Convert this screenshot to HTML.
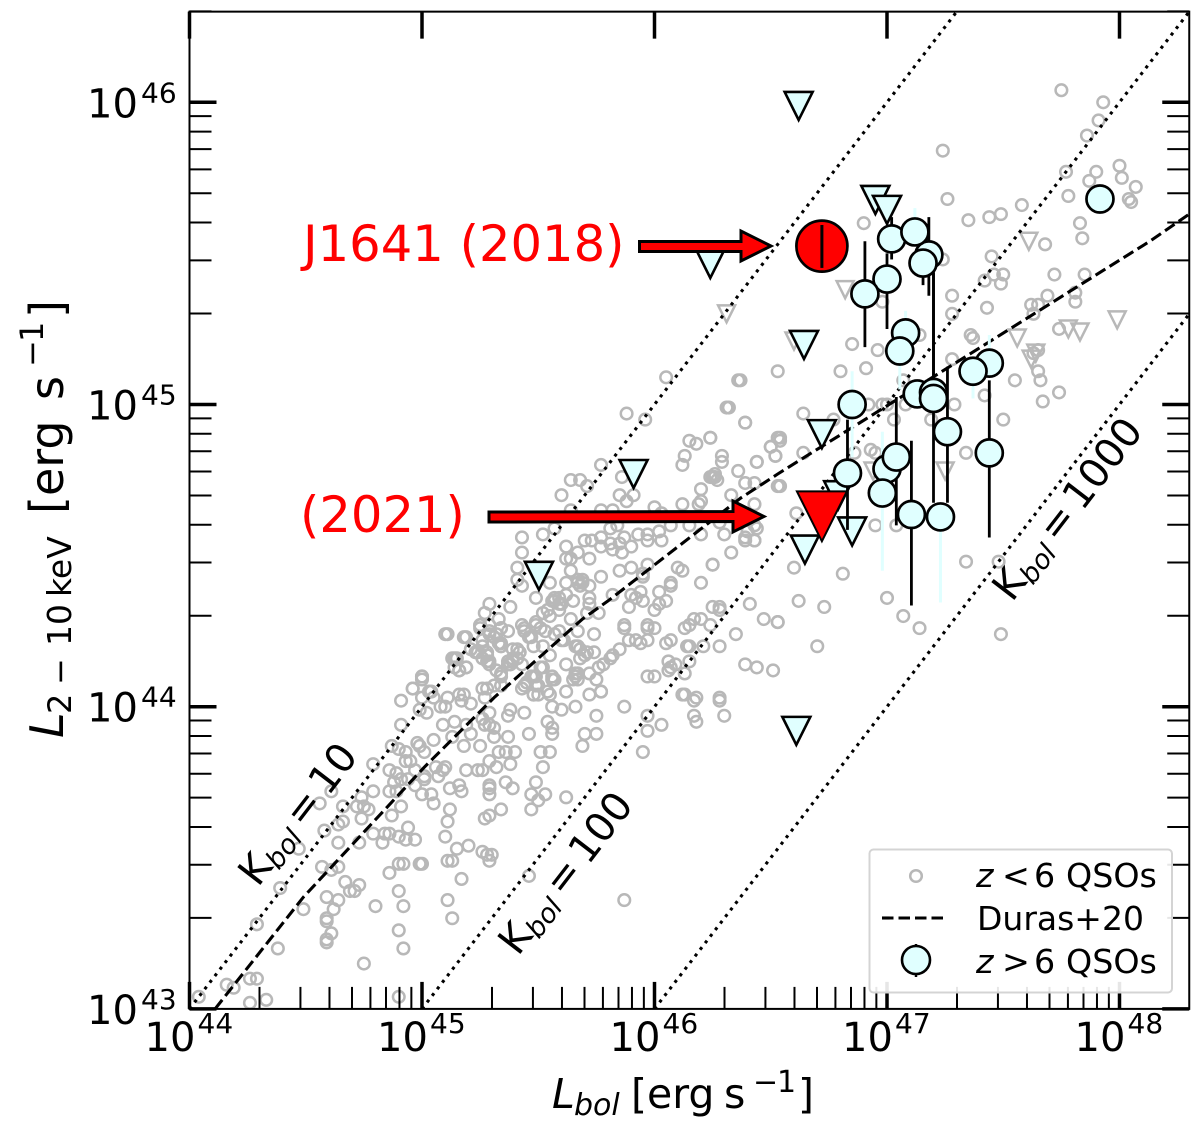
<!DOCTYPE html>
<html lang="en">
<head>
<meta charset="utf-8">
<title>X-ray versus bolometric luminosity</title>
<style>
html,body{margin:0;padding:0;background:#fff}
svg{display:block;font-family:"DejaVu Sans","Liberation Sans",sans-serif}
</style>
</head>
<body>
<svg id="chart" xmlns="http://www.w3.org/2000/svg" width="1200" height="1128" viewBox="0 0 1200 1128">
  <defs><clipPath id="plot-clip"><rect x="189.5" y="11.6" width="999.75" height="997.3"/></clipPath></defs>
  <rect x="0" y="0" width="1200" height="1128" fill="#fff"/>
  <g id="low-z-layer" clip-path="url(#plot-clip)"></g>
  <g id="line-layer" clip-path="url(#plot-clip)"></g>
  <g id="high-z-layer" clip-path="url(#plot-clip)"></g>

  <g font-size="40" fill="#000">
    <text transform="translate(258,888) rotate(-52.4)">K<tspan font-size="27" font-style="italic" dy="6">bol</tspan><tspan dy="-6" dx="7">=</tspan><tspan dx="7">10</tspan></text>
    <text transform="translate(518,957) rotate(-52.4)">K<tspan font-size="27" font-style="italic" dy="6">bol</tspan><tspan dy="-6" dx="7">=</tspan><tspan dx="7">100</tspan></text>
    <text transform="translate(1012,603) rotate(-52.4)">K<tspan font-size="27" font-style="italic" dy="6">bol</tspan><tspan dy="-6" dx="7">=</tspan><tspan dx="7">1000</tspan></text>
  </g>

  <g>
    <text x="303" y="261" font-size="49.6" fill="#f00">J1641 (2018)</text>
    <text x="300" y="532" font-size="49.6" fill="#f00">(2021)</text>
    <polygon points="639.5,241.5 741,241.5 741,231 771,246 741,261 741,251.5 639.5,251.5" fill="#f00" stroke="#000" stroke-width="3" stroke-linejoin="miter"/>
    <polygon points="489,512 733,511.5 733,501 764,516.5 733,532 733,521.5 489,522" fill="#f00" stroke="#000" stroke-width="3" stroke-linejoin="miter"/>
  </g>

  <g id="axis-layer"></g>

  <text transform="translate(63,738) rotate(-90)" font-size="46" fill="#000"><tspan x="0" y="0" font-style="italic">L</tspan><tspan x="24" y="8" font-size="32">2</tspan><tspan x="53" y="8" font-size="32">−</tspan><tspan x="92" y="8" font-size="33">10</tspan><tspan x="141" y="8" font-size="33">keV</tspan><tspan x="224" y="0">[erg</tspan><tspan x="338" y="0">s</tspan><tspan x="371" y="-20" font-size="32">−</tspan><tspan x="396" y="-20" font-size="32">1</tspan><tspan x="420" y="0">]</tspan></text>
  <text x="552" y="1108" font-size="41" fill="#000"><tspan x="552" y="1108" font-style="italic">L</tspan><tspan x="574" y="1115" font-size="30" font-style="italic">bol</tspan><tspan x="631" y="1108">[erg</tspan><tspan x="724" y="1108">s</tspan><tspan x="753" y="1092" font-size="30">−</tspan><tspan x="777" y="1092" font-size="30">1</tspan><tspan x="798" y="1108">]</tspan></text>

  <g>
    <rect x="869.5" y="849.5" width="302.5" height="143" rx="4" ry="4" fill="#fff" fill-opacity="0.9" stroke="#d4d4d4" stroke-width="2"/>
    <circle cx="916" cy="876" r="5.8" fill="none" stroke="#b8b8b8" stroke-width="2.5"/>
    <line x1="882" y1="918" x2="948" y2="918" stroke="#000" stroke-width="3.1" stroke-dasharray="11.5 5"/>
    <line x1="916" y1="944" x2="916" y2="977" stroke="#000" stroke-width="2.5"/>
    <circle cx="916" cy="960" r="14" fill="#e0ffff" stroke="#000" stroke-width="2.6"/>
    <g font-size="33.3" fill="#000">
      <text x="976" y="887" font-style="italic">z</text><text x="1002" y="887">&lt;</text><text x="1034" y="887">6</text><text x="1066" y="887">QSOs</text>
    </g>
    <text x="977" y="930" font-size="33" fill="#000">Duras+20</text>
    <g font-size="33.3" fill="#000">
      <text x="976" y="973" font-style="italic">z</text><text x="1002" y="973">&gt;</text><text x="1034" y="973">6</text><text x="1066" y="973">QSOs</text>
    </g>
  </g>
</svg>
<script>
// ---- chart data (log10 luminosities in erg/s) ----
const xTickExponents = [44, 45, 46, 47, 48];
const yTickExponents = [43, 44, 45, 46];
const minorMultiples = [2, 3, 4, 5, 6, 7, 8, 9];
const kbolValues = [10, 100, 1000];

// Duras+20 relation: [log Lbol, log Lx]
const durasCurve = [[44.11,43.0],[44.49,43.37],[45.01,43.80],[45.31,44.03],[45.69,44.29],[45.80,44.35],[46.37,44.69],[46.53,44.77],[47.3,45.14],[48.13,45.54],[48.3,45.63]];

// z<6 detections: [log Lbol, log Lx]
const lowZDetections = [
[45.10,44.24],[45.18,44.23],[45.25,44.27],[45.29,44.25],[45.34,44.26],[45.37,44.25],[45.43,44.27],[45.49,44.28],[45.46,44.23],[45.51,44.26],
[45.59,44.25],[45.61,44.22],[45.66,44.20],[45.68,44.19],[45.71,44.18],[45.21,44.19],[45.26,44.20],[45.28,44.18],[45.33,44.21],[45.34,44.20],
[45.41,44.19],[45.37,44.15],[45.39,44.16],[45.13,44.16],[45.15,44.16],[45.14,44.13],[45.19,44.13],[45.16,44.12],[45.26,44.16],[45.28,44.15],
[45.32,44.12],[45.34,44.11],[45.43,44.14],[45.47,44.10],[45.51,44.13],[45.56,44.10],[45.62,44.14],[45.66,44.11],[45.65,44.09],[45.00,44.10],
[45.00,44.09],[44.96,44.06],[45.03,44.05],[45.05,44.03],[45.00,44.03],[44.91,44.02],[45.11,44.03],[45.16,44.04],[45.17,44.02],[45.21,44.01],
[45.26,44.06],[45.27,44.03],[45.31,44.07],[45.08,44.0],[45.10,44.0],[45.02,43.98],[44.99,43.99],[44.91,43.94],[45.09,43.94],[45.14,43.95],
[45.19,43.94],[45.21,43.91],[45.13,43.90],[45.26,43.96],[45.29,43.98],[45.27,43.94],[45.29,43.94],[45.31,43.93],[45.38,43.99],[45.37,43.97],
[45.44,43.98],[45.46,43.91],[45.43,44.06],[45.48,44.04],[45.50,44.04],[45.54,44.05],[45.56,44.0],[45.60,43.99],[45.66,44.0],[45.54,43.95],
[45.56,43.93],[45.56,43.91],[45.70,43.91],[45.69,43.87],[45.51,43.85],[45.55,43.85],[45.52,43.80],[45.49,43.75],[45.53,43.71],[45.47,43.71],
[45.50,43.69],[45.47,43.66],[45.62,43.70],[44.87,43.87],[44.90,43.86],[44.93,43.85],[44.98,43.88],[44.99,43.87],[45.01,43.85],[45.05,43.89],
[45.18,43.87],[45.25,43.87],[45.31,43.90],[45.37,43.90],[45.33,43.85],[45.36,43.85],[45.40,43.85],[45.38,43.81],[45.32,43.80],[45.29,43.82],
[45.26,43.79],[45.24,43.79],[45.19,43.79],[45.10,43.80],[45.09,43.79],[45.07,43.77],[45.06,43.80],[45.01,43.77],[44.97,43.79],[44.95,43.82],
[44.93,43.82],[44.89,43.78],[44.86,43.79],[44.88,43.75],[44.91,43.76],[44.94,43.76],[44.97,43.74],[45.01,43.76],[44.86,43.72],[44.89,43.72],
[44.79,43.81],[44.79,43.72],[44.74,43.70],[44.72,43.67],[44.75,43.67],[44.77,43.66],[44.74,43.63],[44.66,43.67],[44.56,43.68],[44.61,43.72],
[44.64,43.61],[44.66,43.62],[44.58,43.59],[44.64,43.55],[44.73,43.55],[44.79,43.58],[44.83,43.55],[44.84,43.58],[44.86,43.58],[44.90,43.57],
[44.93,43.56],[44.94,43.60],[44.97,43.56],[44.87,43.64],[44.91,43.67],[45.0,43.71],[45.04,43.71],[45.05,43.68],[45.12,43.73],[45.16,43.74],
[45.17,43.72],[45.12,43.66],[45.11,43.62],[45.10,43.57],[45.15,43.53],[45.20,43.54],[45.26,43.52],[45.30,43.51],[45.28,43.51],[45.29,43.49],
[45.11,43.49],[45.13,43.49],[44.99,43.48],[45.0,43.48],[44.90,43.48],[44.92,43.48],[44.86,43.45],[44.90,43.39],[44.92,43.34],[44.90,43.26],
[44.92,43.20],[44.80,43.34],[44.75,43.15],[45.11,43.36],[45.13,43.30],[45.17,43.43],[45.46,43.44],[45.29,43.73],[45.29,43.74],[45.29,43.71],
[45.36,43.75],[45.39,43.73],[45.34,43.66],[45.29,43.64],[45.27,43.63],[44.47,43.53],[44.57,43.47],[44.61,43.46],[44.64,43.47],[44.67,43.42],
[44.69,43.39],[44.71,43.39],[44.73,43.41],[44.59,43.37],[44.64,43.36],[44.62,43.33],[44.49,43.33],[44.59,43.30],[44.59,43.29],[44.61,43.25],
[44.59,43.23],[44.59,43.22],[44.39,43.40],[44.29,43.28],[44.38,43.20],[44.26,43.10],[44.29,43.10],[44.16,43.08],[44.19,43.07],[44.04,43.04],
[44.26,43.02],[44.33,43.03],[44.90,43.04],
[46.05,45.09],[46.36,45.08],[45.88,44.97],[45.96,44.95],[46.31,44.99],[46.39,44.94],[46.15,44.88],[46.18,44.87],[46.24,44.89],[46.13,44.83],
[46.12,44.80],[46.29,44.83],[46.29,44.81],[46.36,44.78],[46.44,44.81],[46.50,44.86],[46.53,44.89],[46.52,44.83],[45.77,44.80],[45.86,44.76],
[45.64,44.75],[45.68,44.75],[45.71,44.73],[45.60,44.70],[45.85,44.70],[45.91,44.70],[45.88,44.68],[46.25,44.76],[46.24,44.76],[46.27,44.75],
[46.20,44.72],[46.33,44.70],[46.39,44.74],[46.43,44.74],[46.53,44.73],[46.20,44.68],[46.19,44.67],[46.12,44.67],[46.0,44.66],[46.03,44.64],
[45.77,44.65],[45.82,44.65],[45.64,44.65],[46.07,44.60],[46.15,44.60],[46.28,44.61],[45.57,44.59],[45.84,44.60],[45.81,44.59],[45.43,44.56],
[45.52,44.57],[45.87,44.56],[45.93,44.57],[45.97,44.57],[46.02,44.58],[45.97,44.55],[46.03,44.55],[46.20,44.57],[46.30,44.57],[46.40,44.58],
[46.44,44.59],[46.39,44.55],[46.43,44.55],[45.70,44.55],[45.73,44.55],[45.77,44.56],[45.77,44.53],[45.81,44.54],[45.82,44.52],[45.85,44.54],
[45.90,44.53],[45.86,44.51],[45.62,44.53],[45.43,44.51],[46.33,44.51],[45.67,44.51],[45.64,44.49],[45.62,44.49],[45.72,44.49],[45.97,44.47],
[45.95,44.44],[45.85,44.45],[45.90,44.46],[46.10,44.46],[46.12,44.45],[46.25,44.47],[46.25,44.47],[45.41,44.46],[45.64,44.45],[45.77,44.43],
[45.95,44.43],[45.67,44.42],[45.69,44.42],[45.67,44.41],[45.72,44.40],[45.62,44.41],[45.55,44.41],[45.41,44.42],[45.43,44.40],[46.20,44.41],
[46.07,44.41],[46.07,44.40],[46.02,44.38],[46.05,44.35],[46.02,44.34],[46.0,44.32],[45.82,44.37],[45.90,44.37],[45.92,44.36],[45.94,44.38],
[45.95,44.35],[45.89,44.33],[46.25,44.33],[46.28,44.33],[46.28,44.32],[46.41,44.34],[45.49,44.36],[45.57,44.36],[45.56,44.35],[45.59,44.32],
[45.62,44.37],[45.72,44.36],[45.72,44.34],[45.65,44.35],[45.76,44.31],[45.71,44.31],[45.52,44.31],[45.55,44.30],[45.29,44.34],[45.27,44.31],
[45.38,44.33],[45.33,44.29],[46.47,44.29],[46.53,44.28],[46.17,44.29],[46.20,44.29],[46.24,44.27],[46.13,44.26],[46.15,44.27],[45.87,44.27],
[45.87,44.26],[45.97,44.27],[46.0,44.26],[45.97,44.26],[46.35,44.24],[45.74,44.24],[45.89,44.22],[45.92,44.22],[45.94,44.21],[45.97,44.22],
[46.05,44.21],[46.07,44.22],[46.15,44.20],[46.21,44.20],[46.28,44.20],[45.85,44.19],[45.82,44.17],[45.81,44.16],[45.78,44.14],[45.76,44.13],
[45.74,44.18],[45.68,44.16],[46.39,44.14],[46.44,44.13],[46.51,44.12],[46.06,44.15],[46.09,44.14],[46.07,44.13],[46.13,44.11],[45.97,44.10],
[46.0,44.10],[45.72,44.11],[45.67,44.11],[45.67,44.09],[45.75,44.09],[45.77,44.05],[45.72,44.04],[45.62,44.05],[46.12,44.04],[46.18,44.03],
[46.28,44.03],[45.11,44.24],[45.19,44.23],[45.25,44.26],[45.29,44.24],[45.34,44.26],[45.44,44.26],[45.44,44.25],[45.49,44.27],[45.47,44.23],
[45.53,44.25],[45.57,44.24],[45.34,44.20],[45.24,44.18],[45.28,44.17],[45.39,44.19],[45.42,44.18],[45.48,44.20],[45.52,44.20],[45.55,44.17],
[45.60,44.22],[45.64,44.29],[45.67,44.25],[45.67,44.20],[45.70,44.17],[45.14,44.16],[45.16,44.12],[45.19,44.13],[45.29,44.14],[45.38,44.14],
[45.39,44.15],[45.34,44.10],[45.52,44.13],[45.57,44.09],[45.48,44.10],[45.44,44.07],[45.50,44.07],[45.34,44.07],[45.0,44.10],[44.96,44.06],
[45.04,44.05],[45.18,44.04],[45.28,44.06],[45.48,44.04],[45.55,44.04],
[45.67,44.42],[45.69,44.41],[45.68,44.40],[45.57,44.35],[45.59,44.36],[45.60,44.34],[45.54,44.32],[45.59,44.34],[45.25,44.27],[45.29,44.27],
[45.32,44.24],[45.26,44.22],[45.23,44.18],[45.29,44.15],[45.31,44.23],[45.34,44.21],[45.37,44.14],[45.41,44.16],[45.42,44.18],[45.49,44.10],
[45.49,44.07],[45.45,44.08],[45.56,44.09],[45.67,44.11],[45.66,44.10],
[47.75,46.04],[47.93,46.0],[47.91,45.94],[47.86,45.89],[47.24,45.84],[47.77,45.77],[47.90,45.77],[47.87,45.74],[48.0,45.79],[48.01,45.75],
[48.07,45.72],[47.78,45.69],[48.04,45.68],[48.05,45.67],[47.26,45.68],[47.58,45.66],[47.49,45.63],[47.44,45.62],[47.35,45.61],[47.83,45.60],
[47.84,45.55],[47.68,45.53],[46.90,45.60],[47.45,45.49],[47.24,45.48],[47.50,45.43],[47.42,45.41],[47.46,45.43],[47.49,45.40],[47.72,45.43],
[47.85,45.43],[47.28,45.36],[47.69,45.36],[47.62,45.33],[47.65,45.33],[47.81,45.37],[47.81,45.34],[46.98,45.34],[47.43,45.32],[47.28,45.30],
[47.63,45.30],[47.74,45.25],[47.36,45.23],[47.37,45.22],[47.14,45.23],[46.85,45.20],[46.96,45.18],[47.28,45.15],[47.65,45.18],[47.63,45.17],
[46.53,45.11],[46.37,45.08],[46.80,45.11],[46.91,45.12],[46.32,44.99],[46.39,44.94],[46.64,44.97],[47.07,45.08],[46.92,45.0],[46.98,45.0],
[47.0,45.0],[47.08,45.0],[47.03,44.95],[47.29,45.0],[47.55,45.08],[47.42,45.03],[47.50,44.95],[47.66,45.08],[47.65,45.11],[47.67,45.01],
[47.19,44.95],[46.77,44.95],[46.24,44.89],[46.54,44.89],[46.54,44.88],[46.50,44.86],[46.52,44.83],[46.64,44.84],[46.44,44.81],[46.86,44.84],
[46.93,44.85],[46.95,44.84],[47.34,44.84],[46.26,44.77],[46.26,44.76],[46.54,44.73],[46.43,44.67],[46.95,44.60],[47.04,44.60],[46.61,44.64],
[46.43,44.60],[46.39,44.56],[46.43,44.55],[46.60,44.46],[46.81,44.44],[47.34,44.48],[47.48,44.48],[47.0,44.36],[46.62,44.35],[46.73,44.33],
[47.07,44.30],[46.53,44.28],[47.14,44.26],[47.49,44.24],[47.74,45.04],
[46.70,44.20],[46.14,44.20],[46.06,44.12],[46.15,44.15],[46.13,44.04],[46.17,44.02],[46.28,44.02],[46.30,43.97],[46.17,43.97],[46.18,43.95],
[45.87,44.0],[45.97,43.97],[46.03,43.94],[45.97,43.92],[45.95,43.85],[45.75,43.97],[45.75,43.91],[45.77,44.05],[45.87,43.36]
];

// z<6 upper limits: [log Lbol, log Lx]
const lowZLimits = [[47.61,45.54],[46.82,45.38],[46.31,45.30],[46.60,45.21],[47.56,45.22],[47.78,45.25],[47.83,45.24],[47.99,45.28],[47.62,45.15],[47.64,45.17],[46.94,44.78],[47.25,44.78]];

// z>6 upper limits
const highZLimitLbol = [46.62, 46.95, 47.0, 46.24, 46.643, 46.72, 46.79, 46.85, 46.647, 45.91, 45.503, 46.61];
const highZLimitLx   = [45.988, 45.677, 45.644, 45.465, 45.197, 44.902, 44.70, 44.58, 44.52, 44.77, 44.433, 43.92];

// z>6 detections, with error-bar limits in Lx
const highZLbol   = [47.916, 47.18, 47.155, 47.02, 47.12, 47.0, 46.905, 47.08, 47.055, 47.44, 47.37, 47.13, 47.2, 47.2, 47.26, 46.85, 46.83, 47.44, 47.0, 47.04, 46.98, 47.105, 47.23];
const highZLx     = [45.68, 45.495, 45.468, 45.548, 45.571, 45.415, 45.366, 45.237, 45.177, 45.137, 45.11, 45.035, 45.04, 45.02, 44.91, 45.0, 44.773, 44.84, 44.787, 44.826, 44.707, 44.636, 44.628];
const highZLxLow  = [45.68, 45.36, 45.395, 45.48, 45.571, 45.25, 45.19, 45.237, 45.177, 45.137, 45.11, 45.035, 45.0, 44.675, 44.675, 45.0, 44.585, 44.56, 44.787, 44.60, 44.707, 44.335, 44.628];
const highZLxHigh = [45.68, 45.62, 45.47, 45.62, 45.571, 45.50, 45.54, 45.237, 45.177, 45.137, 45.11, 45.035, 45.44, 45.435, 45.125, 45.0, 44.95, 45.08, 44.787, 45.025, 44.707, 44.88, 44.628];

// pale error bars of the z>6 sample
const paleBarLbol = [47.12, 47.08, 47.055, 47.44, 47.37, 46.85, 46.98, 47.23];
const paleBarLow  = [45.57, 45.24, 45.05, 45.14, 45.02, 44.825, 44.45, 44.345];
const paleBarHigh = [45.65, 45.31, 45.18, 45.23, 45.11, 45.11, 44.91, 44.59];

// J1641
const j1641Detection = {lbol: 46.72, lx: 45.524, low: 45.452, high: 45.594};
const j1641Limit = {lbol: 46.72, lx: 44.63};

// ---- axis functions ----
const xMin = 44, xMax = 48.3, yMin = 43, yMax = 46.3;
function X(v) { return 189.5 + (v - 44) * 232.5; }
function Y(v) { return 102.3 + (46 - v) * 302.2; }

const SVGNS = 'http://www.w3.org/2000/svg';
function make(tag, parent, props) {
  const el = document.createElementNS(SVGNS, tag);
  for (const k in props) el.setAttribute(k, props[k]);
  parent.appendChild(el);
  return el;
}
function trianglePoints(cx, cy, h) {
  return (cx - h) + ',' + (cy - h) + ' ' + (cx + h) + ',' + (cy - h) + ' ' + cx + ',' + (cy + h);
}

// ---- low-z ----
const lowLayer = document.getElementById('low-z-layer');
lowZDetections.forEach(function (d) {
  const el = make('circle', lowLayer, {cx: X(d[0]), cy: Y(d[1]), r: 5.8, fill: 'none', stroke: '#b8b8b8', 'stroke-width': 2.5});
  
  
});
lowZLimits.forEach(function (d) {
  const el = make('polygon', lowLayer, {points: trianglePoints(X(d[0]), Y(d[1]), 8.5), fill: 'none', stroke: '#b8b8b8', 'stroke-width': 2.5});
  
  
});

// ---- reference lines ----
const lineLayer = document.getElementById('line-layer');
kbolValues.forEach(function (k) {
  const logK = Math.log10(k);
  const x0 = Math.max(xMin, yMin + logK);
  const x1 = Math.min(xMax, yMax + logK);
  const el = make('line', lineLayer, {x1: X(x0), y1: Y(x0 - logK), x2: X(x1), y2: Y(x1 - logK), stroke: '#000', 'stroke-width': 3.1, 'stroke-dasharray': '3.1 5.2'});
  
  
});
const duras = make('polyline', lineLayer, {points: durasCurve.map(function (p) { return X(p[0]) + ',' + Y(p[1]); }).join(' '), fill: 'none', stroke: '#000', 'stroke-width': 3.1, 'stroke-dasharray': '11.5 5'});



// ---- high-z ----
const highLayer = document.getElementById('high-z-layer');
paleBarLbol.forEach(function (lb, i) {
  const el = make('line', highLayer, {x1: X(lb), x2: X(lb), y1: Y(paleBarLow[i]), y2: Y(paleBarHigh[i]), stroke: '#e0ffff', 'stroke-width': 3});
  
  
});
highZLimitLbol.forEach(function (lb, i) {
  const el = make('polygon', highLayer, {points: trianglePoints(X(lb), Y(highZLimitLx[i]), 14), fill: '#e0ffff', stroke: '#000', 'stroke-width': 2.6});
  
  
});
highZLbol.forEach(function (lb, i) {
  if (highZLxHigh[i] > highZLxLow[i]) {
    const bar = make('line', highLayer, {x1: X(lb), x2: X(lb), y1: Y(highZLxLow[i]), y2: Y(highZLxHigh[i]), stroke: '#000', 'stroke-width': 2.8});
    
    
  }
});
highZLbol.forEach(function (lb, i) {
  const el = make('circle', highLayer, {cx: X(lb), cy: Y(highZLx[i]), r: 13.5, fill: '#e0ffff', stroke: '#000', 'stroke-width': 2.7});
  
  
});
const redCircle = make('circle', highLayer, {cx: X(j1641Detection.lbol), cy: Y(j1641Detection.lx), r: 25.5, fill: '#f00', stroke: '#000', 'stroke-width': 2.7});


const redBar = make('line', highLayer, {x1: X(j1641Detection.lbol), x2: X(j1641Detection.lbol), y1: Y(j1641Detection.low), y2: Y(j1641Detection.high), stroke: '#000', 'stroke-width': 3});


const redTri = make('polygon', highLayer, {points: trianglePoints(X(j1641Limit.lbol), Y(j1641Limit.lx), 25), fill: '#f00', stroke: '#000', 'stroke-width': 2});



// ---- axes ----
const axisLayer = document.getElementById('axis-layer');
const frame = make('rect', axisLayer, {x: X(xMin), y: Y(yMax), width: X(xMax) - X(xMin), height: Y(yMin) - Y(yMax), fill: 'none', stroke: '#000', 'stroke-width': 2});



function tickLine(x1, y1, x2, y2, width, name) {
  const t = make('line', axisLayer, {x1: x1, y1: y1, x2: x2, y2: y2, stroke: '#000', 'stroke-width': width});
  
  
}
function powerLabel(x, y, ex, exX, exY, name) {
  const t = make('text', axisLayer, {x: x, y: y, 'font-size': 40, fill: '#000'});
  t.textContent = '10';
  
  
  const s = make('text', axisLayer, {x: exX, y: exY, 'font-size': 28, fill: '#000'});
  s.textContent = String(ex);
  
  
}
xTickExponents.forEach(function (e) {
  const px = X(e);
  tickLine(px, Y(yMin), px, Y(yMin) - 27, 3.5, 'x-major-tick');
  tickLine(px, Y(yMax), px, Y(yMax) + 27, 3.5, 'x-top-tick');
  powerLabel(px - 45, 1051, e, px + 8, 1033, 'x-tick-label');
  minorMultiples.forEach(function (m) {
    const v = e + Math.log10(m);
    if (v < xMax) tickLine(X(v), Y(yMin), X(v), Y(yMin) - 22, 2, 'x-minor-tick');
  });
});
yTickExponents.forEach(function (e) {
  const py = Y(e);
  tickLine(X(xMin), py, X(xMin) + 27, py, 3.5, 'y-major-tick');
  tickLine(X(xMax), py, X(xMax) - 27, py, 3.5, 'y-right-major-tick');
  powerLabel(87, py + 15, e, 141, py, 'y-tick-label');
  minorMultiples.forEach(function (m) {
    const v = e + Math.log10(m);
    if (v <= yMax + 0.01) {
      tickLine(X(xMin), Y(v), X(xMin) + 22, Y(v), 2, 'y-minor-tick');
      tickLine(X(xMax), Y(v), X(xMax) - 22, Y(v), 2, 'y-right-minor-tick');
    }
  });
});
</script>
</body>
</html>
